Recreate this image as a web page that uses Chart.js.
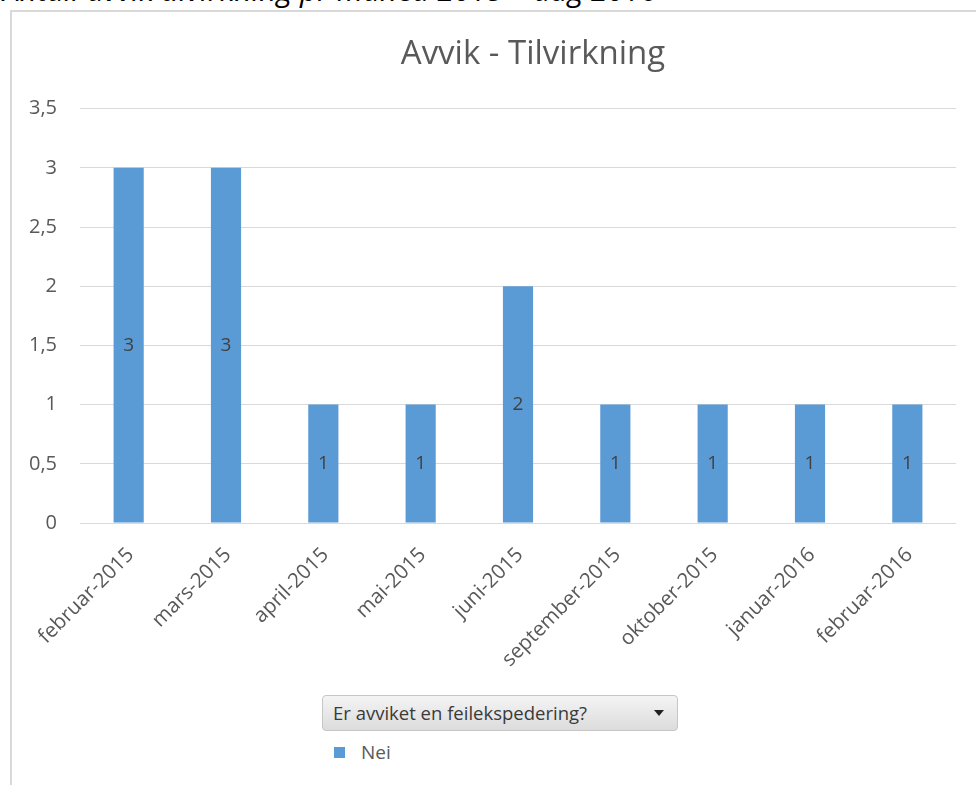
<!DOCTYPE html>
<html lang="no">
<head>
<meta charset="utf-8">
<title>Avvik - Tilvirkning</title>
<script src="https://cdn.jsdelivr.net/npm/chart.js@4.4.1/dist/chart.umd.min.js"></script>
<style>
  html, body {
    margin: 0;
    padding: 0;
    background: #fff;
    width: 976px;
    height: 785px;
    overflow: hidden;
    font-family: "Open Sans", "Noto Sans", sans-serif;
  }
  #page {
    position: relative;
    width: 976px;
    height: 785px;
    overflow: hidden;
  }
  #heading {
    position: absolute;
    left: 3px;
    top: -25px;
    margin: 0;
    font-size: 30px;
    line-height: 30px;
    font-style: italic;
    font-weight: normal;
    color: #000;
    white-space: nowrap;
  }
  #frame {
    position: absolute;
    left: 10px;
    top: 10px;
    width: 1100px;
    height: 800px;
    border-top: 2px solid #d9d9d9;
    border-left: 2px solid #d9d9d9;
  }
  #chartBox {
    position: absolute;
    left: 12px;
    top: 12px;
    width: 1042px;
    height: 680px;
  }
  #filter {
    position: absolute;
    left: 322px;
    top: 695px;
    width: 356px;
    height: 36px;
    box-sizing: border-box;
    border: 1px solid #c6c6c6;
    border-radius: 4px;
    background: linear-gradient(#f4f4f4, #dcdcdc);
    color: #3a3a3a;
    font-size: 18.5px;
    line-height: 33px;
    padding-left: 10px;
  }
  #filter .arrow {
    position: absolute;
    right: 13px;
    top: 14px;
    width: 0;
    height: 0;
    border-left: 5px solid transparent;
    border-right: 5px solid transparent;
    border-top: 6px solid #222;
  }
  #legend {
    position: absolute;
    left: 334px;
    top: 739px;
    font-size: 19px;
    color: #595959;
  }
  #legend .swatch {
    display: inline-block;
    width: 11px;
    height: 11px;
    margin-right: 16px;
    vertical-align: 1px;
  }
</style>
</head>
<body>
<div id="page">
  <p id="heading">Antall avvik tilvirkning pr måned 2015 – aug 2016</p>
  <div id="frame"></div>
  <div id="chartBox"><canvas id="avvikChart"></canvas></div>
  <div id="filter">Er avviket en feilekspedering?<span class="arrow"></span></div>
  <div id="legend"></div>
</div>

<script>
// Months with registered deviations
const months = [
    'februar-2015', 'mars-2015', 'april-2015', 'mai-2015', 'juni-2015',
    'september-2015', 'oktober-2015', 'januar-2016', 'februar-2016'
];

// Count of deviations per month, answer "Nei"
const seriesName = 'Nei';
const neiCounts = [3, 3, 1, 1, 2, 1, 1, 1, 1];

// Y axis ticks
const yTicks = [0, 0.5, 1, 1.5, 2, 2.5, 3, 3.5];

const barColor = '#5b9bd5';
const textColor = '#595959';
const fontFamily = '"Open Sans", "Noto Sans", sans-serif';

// Writes each bar's value in the middle of the bar
const barValueLabels = {
    id: 'barValueLabels',
    afterDatasetsDraw(chart) {
        const ctx = chart.ctx;
        ctx.save();
        ctx.font = '19px ' + fontFamily;
        ctx.fillStyle = '#404040';
        ctx.textAlign = 'center';
        ctx.textBaseline = 'middle';
        chart.data.datasets.forEach((ds, i) => {
            chart.getDatasetMeta(i).data.forEach((bar, j) => {
                const mid = (bar.y + bar.base) / 2;
                ctx.fillText(String(ds.data[j]), bar.x, mid);
            });
        });
        ctx.restore();
    }
};

function formatTick(value) {
    return String(value).replace('.', ',');
}

function buildLegend() {
    const legend = document.getElementById('legend');
    legend.innerHTML = `<span class="swatch" style="background:${barColor}"></span>${seriesName}`;
}

function createChart() {
    const ctx = document.getElementById('avvikChart').getContext('2d');
    new Chart(ctx, {
        type: 'bar',
        data: {
            labels: months,
            datasets: [{
                label: seriesName,
                data: neiCounts,
                backgroundColor: barColor,
                borderWidth: 0,
                categoryPercentage: 1,
                barPercentage: 0.31
            }]
        },
        options: {
            responsive: true,
            maintainAspectRatio: false,
            animation: false,
            layout: {
                padding: 0
            },
            plugins: {
                legend: { display: false },
                tooltip: { enabled: false },
                title: {
                    display: true,
                    text: 'Avvik - Tilvirkning',
                    color: textColor,
                    font: { family: fontFamily, size: 33, weight: 'normal' },
                    padding: { top: 23, bottom: 34 }
                }
            },
            scales: {
                x: {
                    grid: { display: false },
                    border: { display: false },
                    ticks: {
                        color: textColor,
                        font: { family: fontFamily, size: 20.5 },
                        maxRotation: 45,
                        minRotation: 45,
                        autoSkip: false,
                        padding: 12,
                        labelOffset: 2
                    },
                    afterFit(scale) {
                        scale.height = 169;
                    }
                },
                y: {
                    min: 0,
                    max: 3.5,
                    afterBuildTicks(scale) {
                        scale.ticks = yTicks.map(v => ({ value: v }));
                    },
                    grid: {
                        color: '#d9d9d9',
                        lineWidth: 1,
                        drawTicks: false
                    },
                    border: { display: false },
                    ticks: {
                        color: textColor,
                        font: { family: fontFamily, size: 20 },
                        padding: 23,
                        callback: formatTick
                    },
                    afterFit(scale) {
                        scale.width = 68;
                    }
                },
                // empty space on the right so the title sits over the whole frame
                spacer: {
                    type: 'linear',
                    position: 'right',
                    display: true,
                    grid: { display: false },
                    border: { display: false },
                    ticks: { display: false },
                    afterFit(scale) {
                        scale.width = 98;
                    }
                }
            }
        },
        plugins: [barValueLabels]
    });
}

buildLegend();
createChart();
</script>
</body>
</html>
